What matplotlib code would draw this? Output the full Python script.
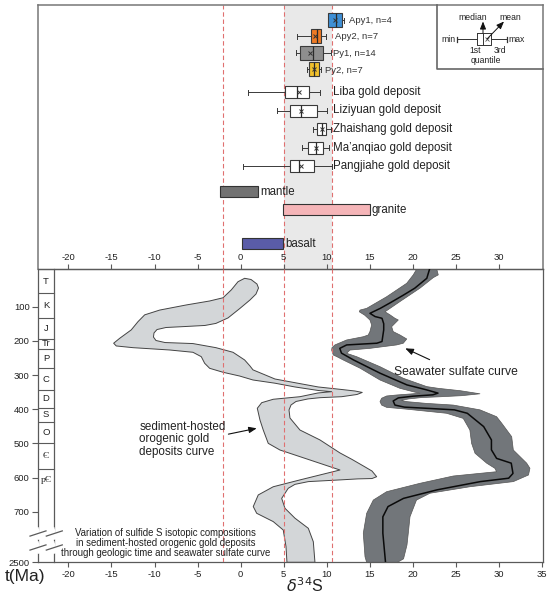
import numpy as np
import matplotlib
matplotlib.use('Agg')
import matplotlib.pyplot as plt
from matplotlib.lines import Line2D

plt.rcParams['font.family'] = ['Liberation Sans', 'DejaVu Sans']

# ------------------------------------------------------------------ data
ref_lines = [-2.1, 5.0, 10.6]
shade_band = [5.0, 10.6]

mineral_labels = ['Apy1, n=4', 'Apy2, n=7', 'Py1, n=14', 'Py2, n=7']
mineral_min = [10.10, 6.50, 6.42, 7.66]
mineral_q1 = [10.17, 8.12, 6.88, 7.96]
mineral_med = [11.10, 8.89, 8.35, 8.51]
mineral_q3 = [11.72, 9.32, 9.59, 9.05]
mineral_max = [11.95, 9.86, 10.48, 9.28]
mineral_mean = [10.98, 8.62, 8.04, 8.50]
mineral_colors = ['#3f8fd5', '#ee7a24', '#8e8e8e', '#f1c02c']

deposit_labels = ['Liba gold deposit', 'Liziyuan gold deposit', 'Zhaishang gold deposit',
                  'Ma\u2019anqiao gold deposit', 'Pangjiahe gold deposit']
deposit_min = [0.88, 4.18, 8.36, 7.08, 0.30]
deposit_q1 = [5.18, 5.72, 8.89, 7.85, 5.76]
deposit_med = [6.50, 6.96, 9.43, 8.74, 6.77]
deposit_q3 = [7.96, 8.82, 9.93, 9.59, 8.54]
deposit_max = [9.24, 10.05, 10.44, 10.20, 10.56]
deposit_mean = [6.80, 7.00, 9.40, 8.74, 7.00]

source_labels = ['mantle', 'granite', 'basalt']
source_lo = [-2.4, 4.9, 0.2]
source_hi = [2.0, 15.0, 4.9]
source_colors = ['#727272', '#f5b5b8', '#5a5ca8']

periods = ['T', 'K', 'J', 'Tr', 'P', 'C', 'D', 'S', 'O', '\u0404', 'p\u0404']
period_bounds = [0, 61, 133, 194, 224, 280, 344, 396, 437, 500, 575, 2500]

# sediment-hosted orogenic gold deposits curve (outline, two sides)
gold_a_d = [0.46, 1.20, 1.89, 2.07, 1.78, 1.08, -0.08, -1.47, -2.87, -4.14, -6.35, -8.67,
            -9.71, -10.06, -10.12, -9.83, -8.78, -5.54, -2.87, -0.89, 0.46, 1.08, 1.43, 3.98,
            6.30, 9.00, 11.72, 13.26, 14.11, 13.50, 11.72, 9.20, 7.81, 6.42, 5.84, 5.61, 5.72,
            6.88, 9.20, 11.52, 12.92, 14.43, 15.24, 15.78, 15.24, 13.61, 11.52, 7.85, 6.30,
            5.52, 4.76, 5.14, 6.30, 7.85, 8.43, 8.62]
gold_a_t = [17, 20.5, 33.7, 45.4, 63, 80.5, 105, 133, 149, 155, 158, 161, 167, 177, 189, 199,
            205, 208, 220, 233.5, 256, 273.6, 285, 311.7, 322.5, 335, 342.4, 346.8, 351, 357,
            363.5, 366.4, 370, 377.5, 387.8, 402.4, 425.8, 461, 490, 528, 547, 569, 581, 597.6,
            603, 604, 607, 612, 620, 631.5, 661, 690, 719, 748.6, 1313, 2500]
gold_b_d = [0.46, -0.31, -1.09, -2.05, -3.60, -6.31, -9.40, -11.14, -11.92, -12.70, -14.04,
            -14.74, -14.44, -12.50, -8.24, -5.54, -4.57, -4.18, -3.60, -2.05, -0.12, 1.43, 3.98,
            6.30, 9.00, 10.56, 8.97, 6.88, 3.78, 2.44, 1.93, 2.24, 2.62, 3.20, 4.56, 8.04, 11.52,
            6.88, 3.78, 2.04, 1.46, 1.86, 3.78, 4.94, 5.26, 5.37]
gold_b_t = [17, 27, 51, 74, 83.4, 95, 110, 124, 144, 168, 192.6, 207, 215, 220, 226.8, 233.5,
            246.4, 265.7, 280.4, 292, 303, 314.6, 324, 335, 345.3, 348.8, 352.6, 363.5, 371, 381,
            397.4, 431.7, 461, 500, 519.5, 548.7, 578, 607, 627, 651, 685, 704.7, 729, 753.6,
            1590, 2500]

# seawater sulfate curve: centre line and envelope
sw_mid_d = [21.9, 21.6, 20.2, 18.9, 17.4, 16.2, 15.0, 15.6, 16.4, 16.6, 16.6, 16.4, 15.8, 12.3,
            11.5, 11.7, 13.1, 16.2, 19.3, 21.5, 22.9, 22.3, 20.0, 18.3, 17.7, 17.9, 19.0, 22.0,
            24.8, 26.3, 28.2, 29.1, 29.1, 29.7, 31.4, 31.6, 31.1, 27.8, 22.8, 18.9, 17.1, 16.5,
            16.5, 16.8]
sw_mid_t = [-8, 17, 46, 66, 88, 105, 119.5, 129, 134, 150, 168, 202, 207, 212, 222, 236, 256,
            295, 329, 343, 353, 358, 362, 367, 376, 388, 394, 398, 402, 412, 451, 490, 519, 544,
            558, 588, 602, 612, 636, 661, 685, 715, 820, 2450]
sw_r_d = [22.75, 22.93, 22.35, 20.8, 18.49, 16.75, 17.33, 17.9, 18.29, 17.52, 17.7, 18.49,
          19.27, 18.87, 18.1, 15.0, 12.68, 12.3, 13.46, 16.17, 18.87, 21.6, 22.93, 25.5, 27.77,
          25.65, 23.3, 21.0, 19.5, 18.6, 19.3, 21.5, 24.67, 27.77, 29.7, 30.29, 31.45, 31.64,
          33.19, 33.57, 33.4, 31.64, 26.6, 21.97, 20.4, 19.65, 19.45, 19.3, 18.9, 18.2]
sw_r_t = [-10.2, 7, 15, 46, 85, 115, 124, 134, 139, 158.6, 173, 183, 194.6, 207, 212, 222, 227,
          236.5, 246.4, 275.7, 309.6, 334, 339, 346, 355, 360.5, 363.5, 366, 370, 374, 378, 383,
          388, 402, 422, 441, 480.5, 519.5, 558, 573, 592.6, 612, 627, 646, 666, 714.7, 820,
          1500, 2300, 2500]
sw_l_d = [20.43, 20.03, 19.27, 16.94, 14.62, 13.85, 13.77, 14.4, 15.0, 15.2, 15.0, 14.8, 14.23,
          12.3, 10.94, 10.6, 10.56, 10.75, 11.14, 11.9, 13.85, 16.17, 18.49, 20.03, 20.8, 18.1,
          16.94, 16.36, 16.17, 16.36, 16.94, 19.27, 23.9, 25.83, 26.6, 26.8, 27.2, 28.55, 29.5,
          29.7, 24.67, 20.8, 16.94, 15.39, 14.62, 14.23, 14.43, 14.62]
sw_l_t = [-10.2, 7, 31.6, 71, 105, 110, 115, 125, 139, 153.6, 173, 183, 188, 197.5, 212, 220,
          227, 241.4, 246, 256, 280, 314.6, 339, 349, 353.5, 358.5, 361.4, 368, 378, 388, 394.6,
          400, 412, 427, 461, 500, 529, 558, 573, 583, 595.6, 617, 641.5, 666, 705, 820, 2180,
          2500]

x_ticks_bottom = list(range(-20, 36, 5))
x_ticks_top = list(range(-20, 31, 5))
y_ticks = [100, 200, 300, 400, 500, 600, 700, 2500]

# ------------------------------------------------------------------ layout
W, H = 550, 597
fig = plt.figure(figsize=(W / 100, H / 100), dpi=100)
fig.patch.set_facecolor('white')


def fx(px):
    return px / W


def fy(py):
    return 1 - py / H


LEFT, RIGHT = 38.0, 543.3
TOP, MID, BOTTOM = 5.0, 269.0, 562.3
COLX = 53.8
FRAME = '#5a5a5a'
TXT = '#222222'

ax = fig.add_axes([fx(LEFT), fy(BOTTOM), (RIGHT - LEFT) / W, (BOTTOM - MID) / H])
axt = fig.add_axes([fx(LEFT), fy(MID), (RIGHT - LEFT) / W, (MID - TOP) / H], sharex=ax)
ax.set_zorder(3)
ax.patch.set_visible(False)
axt.set_zorder(1)

ax.set_xlim(-23.52, 35.12)

BRK, K = 760.0, 88.1 / 1740.0


def fwd(t):
    t = np.asarray(t, float)
    return np.where(t <= BRK, t, BRK + (t - BRK) * K)


def inv(y):
    y = np.asarray(y, float)
    return np.where(y <= BRK, y, BRK + (y - BRK) / K)


ax.set_yscale('function', functions=(fwd, inv))
ax.set_ylim(2500, -10.2)

# ------------------------------------------------------------------ lower panel
for s in ax.spines.values():
    s.set_color(FRAME)
    s.set_linewidth(0.9)
ax.set_xticks(x_ticks_bottom)
ax.set_xticklabels([str(v) for v in x_ticks_bottom])
ax.tick_params(axis='x', which='both', direction='out', length=3.5, width=0.8, colors=FRAME,
               labelcolor=TXT, labelsize=6.8, pad=2, top=False)
ax.set_yticks(y_ticks)
ax.set_yticklabels([str(v) for v in y_ticks])
ax.yaxis.set_minor_locator(matplotlib.ticker.NullLocator())
ax.tick_params(axis='y', direction='out', length=4, width=0.8, colors=FRAME, labelcolor=TXT,
               labelsize=6.8, pad=2)

sec = ax.secondary_xaxis('top')
sec.set_xticks(x_ticks_top)
sec.set_xticklabels([str(v) for v in x_ticks_top])
sec.tick_params(direction='out', length=3.5, width=0.8, colors=FRAME, labelcolor=TXT,
                labelsize=6.8, pad=1.5)
sec.spines['top'].set_color(FRAME)
sec.spines['top'].set_linewidth(0.9)

for xv in ref_lines:
    ax.axvline(xv, color='#e07070', lw=0.8, dashes=(4, 2.5), zorder=4)

# gold deposits curve
gold_d = np.concatenate([gold_a_d, gold_b_d[::-1]])
gold_t = np.concatenate([gold_a_t, gold_b_t[::-1]])
ax.fill(gold_d, gold_t, facecolor='#d3d6d8', edgecolor='#444444', lw=0.7, zorder=2,
        joinstyle='round')

# seawater sulfate envelope and centre line
sw_d = np.concatenate([sw_r_d, sw_l_d[::-1]])
sw_t = np.concatenate([sw_r_t, sw_l_t[::-1]])
ax.fill(sw_d, sw_t, facecolor='#72767a', edgecolor='#555555', lw=0.5, zorder=2,
        joinstyle='round')
ax.plot(sw_mid_d, sw_mid_t, color='#0a0a0a', lw=1.1, zorder=3, solid_joinstyle='round')

# geologic column
ytr = ax.get_yaxis_transform()
cfrac = (COLX - LEFT) / (RIGHT - LEFT)
ax.plot([cfrac, cfrac], [-10.2, 2500], color=FRAME, lw=0.9, transform=ytr, zorder=5,
        clip_on=False)
for b in period_bounds[1:-1]:
    ax.plot([0, cfrac], [b, b], color=FRAME, lw=0.8, transform=ytr, zorder=5)
for i, p in enumerate(periods):
    lo = max(period_bounds[i], -10.2)
    hi = period_bounds[i + 1]
    mid = (lo + hi) / 2 if i < len(periods) - 1 else lo + 32
    if i == 0:
        mid = (-10.2 + hi) / 2
    fam = ['Liberation Serif'] if '\u0404' in p else ['Liberation Sans', 'DejaVu Sans']
    ax.text(cfrac / 2, mid, p, transform=ytr, ha='center', va='center', fontsize=6.8,
            color=TXT, family=fam, zorder=6)

# axis break marks
for by in (533.5, 547.5):
    for cx in (LEFT, COLX):
        fig.add_artist(Line2D([fx(cx - 1), fx(cx + 1)], [fy(by - 4), fy(by + 4)],
                              color='white', lw=3, transform=fig.transFigure, zorder=10))
    for cx in (LEFT, COLX + 0.5):
        fig.add_artist(Line2D([fx(cx - 8), fx(cx + 8)], [fy(by + 2.6), fy(by - 2.6)],
                              color=FRAME, lw=0.9, transform=fig.transFigure, zorder=11))

# annotations
ax.annotate('Seawater sulfate curve', xy=(19.1, 222), xytext=(25.0, 291), ha='center',
            va='center', fontsize=8.7, color=TXT, zorder=6,
            arrowprops=dict(arrowstyle='-|>,head_length=0.55,head_width=0.22', color='#111',
                            lw=0.8, shrinkA=6, shrinkB=0))
ax.annotate('sediment-hosted\norogenic gold\ndeposits curve', xy=(1.86, 456),
            xytext=(-11.77, 488), ha='left', va='center', fontsize=8.4, color=TXT,
            linespacing=1.05, zorder=6,
            arrowprops=dict(arrowstyle='-|>,head_length=0.55,head_width=0.22', color='#111',
                            lw=0.8, shrinkA=0, shrinkB=0, relpos=(0.58, 0.42)))
fig.text(fx(165.7), fy(542.7),
         'Variation of sulfide S isotopic compositions\n'
         'in sediment-hosted orogenic gold deposits\n'
         'through geologic time and seawater sulfate curve',
         ha='center', va='center', fontsize=6.9, color=TXT, linespacing=1.0, zorder=12)

fig.text(fx(25), fy(576), 't(Ma)', ha='center', va='center', fontsize=12.5, color=TXT)
fig.text(fx(305), fy(595), r'$\delta^{34}$S', ha='center', va='bottom', fontsize=11.5,
         color=TXT)

# ------------------------------------------------------------------ upper panel
axt.set_ylim(MID, TOP)
axt.tick_params(axis='both', which='both', bottom=False, left=False, labelbottom=False,
                labelleft=False)
for k_, s in axt.spines.items():
    s.set_color('#777777')
    s.set_linewidth(1.1)
axt.spines['bottom'].set_visible(False)

axt.axvspan(shade_band[0], shade_band[1], color='#e9e9e9', zorder=0, lw=0)
for xv in ref_lines:
    axt.axvline(xv, color='#e07070', lw=0.8, dashes=(4, 2.5), zorder=1)

mineral_pos = [20.0, 36.0, 52.8, 69.3]
deposit_pos = [92.2, 110.5, 129.0, 147.8, 166.0]
source_pos = [191.2, 209.2, 243.8]


def make_stats(lo, q1, med, q3, hi, mean):
    return [dict(whislo=a, q1=b, med=c, q3=d, whishi=e, mean=f, fliers=[])
            for a, b, c, d, e, f in zip(lo, q1, med, q3, hi, mean)]


def draw_boxes(stats, pos, width, faces):
    kw = dict(positions=pos, widths=width, patch_artist=True, showmeans=True,
              showfliers=False, capwidths=5,
              boxprops=dict(edgecolor='#3a3a3a', linewidth=0.8),
              whiskerprops=dict(color='#3a3a3a', linewidth=0.7),
              capprops=dict(color='#3a3a3a', linewidth=0.7),
              medianprops=dict(color='#2a2a2a', linewidth=0.9),
              meanprops=dict(marker='x', markersize=2.6, markeredgecolor='#333333',
                             markeredgewidth=0.7))
    try:
        res = axt.bxp(stats, orientation='horizontal', **kw)
    except TypeError:
        res = axt.bxp(stats, vert=False, **kw)
    for b, c in zip(res['boxes'], faces):
        b.set_facecolor(c)
        b.set_zorder(3)
    for key in ('whiskers', 'caps', 'medians', 'means'):
        for a in res[key]:
            a.set_zorder(4)
    return res


draw_boxes(make_stats(mineral_min, mineral_q1, mineral_med, mineral_q3, mineral_max,
                      mineral_mean), mineral_pos, 14, mineral_colors)
draw_boxes(make_stats(deposit_min, deposit_q1, deposit_med, deposit_q3, deposit_max,
                      deposit_mean), deposit_pos, 12, ['white'] * 5)

mineral_label_x = [12.6, 10.94, 10.68, 9.82]
for lab, y, x in zip(mineral_labels, mineral_pos, mineral_label_x):
    axt.text(x, y + 0.8, lab, ha='left', va='center', fontsize=6.8, color='#333333')
for lab, y in zip(deposit_labels, deposit_pos):
    axt.text(10.75, y, lab, ha='left', va='center', fontsize=8.3, color=TXT)

axt.barh(source_pos, np.array(source_hi) - np.array(source_lo), left=source_lo, height=11,
         color=source_colors, edgecolor='#333333', linewidth=0.8, zorder=3)
for lab, y, hi in zip(source_labels, source_pos, source_hi):
    axt.text(hi + 0.22, y + 0.5, lab, ha='left', va='center', fontsize=8.3, color=TXT)

axt.set_xlim(-23.52, 35.12)

# legend box (pixel coordinates)
lg = fig.add_axes([fx(437), fy(69), (543.3 - 437) / W, (69 - 5) / H])
lg.set_xlim(437, 543.3)
lg.set_ylim(69, 5)
lg.axis('off')
lg.set_zorder(5)
lg.plot([437, 437, 543.3], [5, 69, 69], color='#666666', lw=1.2, clip_on=False)
leg_stats = [dict(whislo=457, q1=477, med=483, q3=490.7, whishi=507, mean=486.5, fliers=[])]
lkw = dict(positions=[39], widths=12, showmeans=True, showfliers=False, capwidths=5,
           boxprops=dict(color='#333333', linewidth=0.7),
           whiskerprops=dict(color='#333333', linewidth=0.7),
           capprops=dict(color='#333333', linewidth=0.9),
           medianprops=dict(color='#333333', linewidth=0.7),
           meanprops=dict(marker='x', markersize=2.2, markeredgecolor='#555555',
                          markeredgewidth=0.6))
try:
    lg.bxp(leg_stats, orientation='horizontal', **lkw)
except TypeError:
    lg.bxp(leg_stats, vert=False, **lkw)
lg.set_xlim(437, 543.3)
lg.set_ylim(69, 5)
ls = 6.2
lg.text(456, 39.5, 'min', ha='right', va='center', fontsize=ls, color=TXT)
lg.text(508.5, 39.5, 'max', ha='left', va='center', fontsize=ls, color=TXT)
lg.text(473, 17.5, 'median', ha='center', va='center', fontsize=ls, color=TXT)
lg.text(510, 17.5, 'mean', ha='center', va='center', fontsize=ls, color=TXT)
lg.text(475, 50.5, '1st', ha='center', va='center', fontsize=ls, color=TXT)
lg.text(500, 50.5, '3rd', ha='center', va='center', fontsize=ls, color=TXT)
lg.text(486, 60.5, 'quantile', ha='center', va='center', fontsize=ls, color=TXT)
ap = dict(arrowstyle='-|>,head_length=0.45,head_width=0.18', color='#111', lw=0.7,
          shrinkA=0, shrinkB=0)
lg.annotate('', xy=(483, 21.5), xytext=(483, 33), arrowprops=ap)
lg.annotate('', xy=(504, 21.5), xytext=(487, 39), arrowprops=ap)

fig.savefig('out.png', dpi=100, facecolor='white')
